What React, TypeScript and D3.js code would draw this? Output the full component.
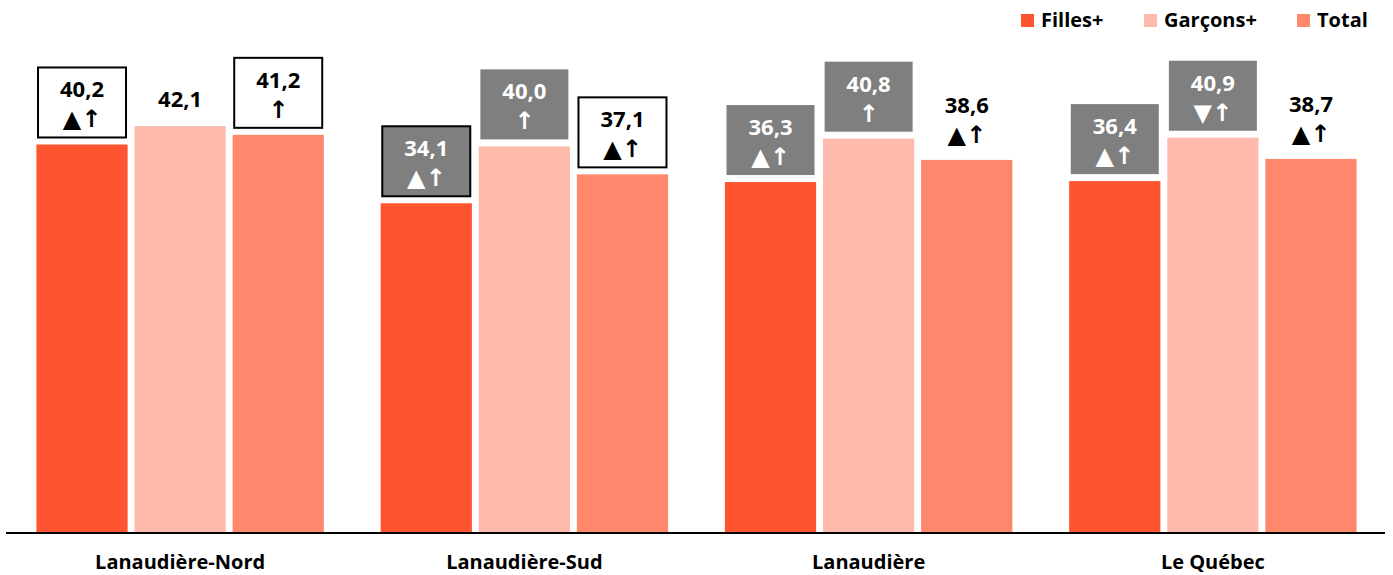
import React from "react";
import * as d3 from "d3";

const categories = ["Lanaudière-Nord", "Lanaudière-Sud", "Lanaudière", "Le Québec"];
const seriesNames = ["Filles+", "Garçons+", "Total"];
const filles = [40.2, 34.1, 36.3, 36.4];
const garcons = [42.1, 40.0, 40.8, 40.9];
const total = [41.2, 37.1, 38.6, 38.7];
const fillesSym = ["▲↑", "▲↑", "▲↑", "▲↑"];
const garconsSym = ["", "↑", "↑", "▼↑"];
const totalSym = ["↑", "▲↑", "▲↑", "▲↑"];
// box style: "white" = white box with black border, "gray" = gray box, "grayb" = gray box with black border, "none"
const fillesBox = ["white", "grayb", "gray", "gray"];
const garconsBox = ["none", "gray", "gray", "gray"];
const totalBox = ["white", "white", "none", "none"];

const colors = ["#FF5430", "#FEBBAB", "#FF886C"];
const W = 1393;
const H = 575;
const FONT = "'Open Sans', 'DejaVu Sans', sans-serif";

export default function App() {
  const values = [filles, garcons, total];
  const syms = [fillesSym, garconsSym, totalSym];
  const boxes = [fillesBox, garconsBox, totalBox];
  const x0 = d3.scaleBand<string>().domain(categories).range([8, 1385]).paddingInner(0.165).paddingOuter(0.0825);
  const x1 = d3.scaleBand<string>().domain(seriesNames).range([0, x0.bandwidth()]).paddingInner(0.07);
  const y = d3.scaleLinear().domain([0, 50]).range([532, 50]);
  const boxW = 88;
  const boxH = 70;

  const legendX = [1021, 1144, 1297];

  return (
    <svg width={W} height={H} style={{ position: "absolute", left: 0, top: 0 }} fontFamily={FONT}>
      <rect width={W} height={H} fill="#fff" />
      {categories.map((c, ci) => (
        <g key={c}>
          {seriesNames.map((s, si) => {
            const v = values[si][ci];
            const bx = (x0(c) as number) + (x1(s) as number);
            const bw = x1.bandwidth();
            const cx = bx + bw / 2;
            const top = y(v);
            const sym = syms[si][ci];
            const box = boxes[si][ci];
            const label = v.toFixed(1).replace(".", ",");
            const boxTop = top - 7 - boxH;
            const textColor = box === "gray" || box === "grayb" ? "#fff" : "#000";
            return (
              <g key={s}>
                <rect x={bx} y={top} width={bw} height={y(0) - top} fill={colors[si]} />
                {box !== "none" && (
                  <rect
                    x={cx - boxW / 2}
                    y={boxTop}
                    width={boxW}
                    height={boxH}
                    fill={box === "white" ? "#fff" : "#7F7F7F"}
                    stroke={box === "white" || box === "grayb" ? "#000" : "none"}
                    strokeWidth={2}
                  />
                )}
                {sym === "" ? (
                  <text x={cx} y={top - 19} textAnchor="middle" fontWeight="bold" fontSize={22} fill={textColor}>
                    {label}
                  </text>
                ) : (
                  <>
                    <text x={cx} y={boxTop + 30} textAnchor="middle" fontWeight="bold" fontSize={22} fill={textColor}>
                      {label}
                    </text>
                    <text x={cx} y={boxTop + 60} textAnchor="middle" fontWeight="bold" fontSize={24} fill={textColor}>
                      {sym}
                    </text>
                  </>
                )}
              </g>
            );
          })}
          <text x={(x0(c) as number) + x0.bandwidth() / 2} y={569} textAnchor="middle" fontWeight="bold" fontSize={20} fill="#000">
            {c}
          </text>
        </g>
      ))}
      <line x1={6} x2={1385} y1={y(0) + 1} y2={y(0) + 1} stroke="#000" strokeWidth={2} />
      {seriesNames.map((s, i) => (
        <g key={s}>
          <rect x={legendX[i]} y={14} width={13} height={13} fill={colors[i]} />
          <text x={legendX[i] + 20} y={27} fontWeight="bold" fontSize={20} fill="#000">
            {s}
          </text>
        </g>
      ))}
    </svg>
  );
}
